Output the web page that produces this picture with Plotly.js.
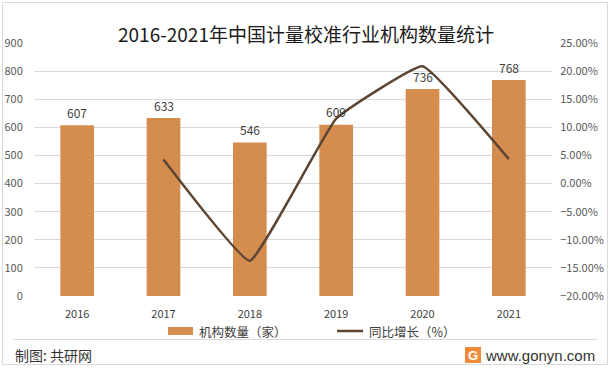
<!DOCTYPE html>
<html>
<head>
<meta charset="utf-8">
<script src="https://cdn.plot.ly/plotly-3.0.1.min.js"></script>
<style>html,body{margin:0;padding:0;background:#fff;}#chart{width:612px;height:370px;}</style>
</head>
<body>
<div id="chart"></div>
<script>
// ---- data ----
const years = ['2016', '2017', '2018', '2019', '2020', '2021'];
const institutions = [607, 633, 546, 609, 736, 768];
const growthYears = ['2017', '2018', '2019', '2020', '2021'];
const growthRate = [0.0428, -0.1374, 0.1154, 0.2085, 0.0435];
const barName = '机构数量（家）';
const lineName = '同比增长（%）';
const titleText = '2016-2021年中国计量校准行业机构数量统计';
const sourceText = '制图: 共研网';
const siteText = 'www.gonyn.com';

// ---- layout helpers ----
const W = 612, H = 370;
const M = {l: 34, r: 60, t: 43, b: 74};
const PW = W - M.l - M.r, PH = H - M.t - M.b;
const px = x => (x - M.l) / PW;
const py = y => (H - M.b - y) / PH;

const FONT = '"Noto Sans CJK SC", "Noto Sans", sans-serif';
const barColor = '#D48C4F';
const lineColor = '#5C4532';

const traces = [
  {
    type: 'bar', x: years, y: institutions, name: barName,
    marker: {color: barColor}, showlegend: false, hoverinfo: 'skip'
  },
  {
    type: 'scatter', mode: 'lines', x: growthYears, y: growthRate, name: lineName,
    yaxis: 'y2', line: {color: lineColor, width: 2.5, shape: 'spline', smoothing: 0.3},
    showlegend: false, hoverinfo: 'skip'
  }
];

const annotations = years.map((yr, i) => ({
  x: i, y: institutions[i], xref: 'x', yref: 'y', text: String(institutions[i]),
  showarrow: false, yshift: 13, yanchor: 'middle',
  font: {family: FONT, size: 12, color: '#404040'}
}));

function paperText(x, y, text, anchor, font) {
  return {xref: 'paper', yref: 'paper', x: px(x), y: py(y), text: text, showarrow: false,
          xanchor: anchor, yanchor: 'middle', font: font};
}
annotations.push(paperText(306, 33, titleText, 'center', {family: FONT, size: 19, color: '#1a1a1a'}));
annotations.push(paperText(197, 331, barName, 'left', {family: FONT, size: 12.5, color: '#404040'}));
annotations.push(paperText(367, 331, lineName, 'left', {family: FONT, size: 12.5, color: '#404040'}));
annotations.push(paperText(13, 355, sourceText, 'left', {family: FONT, size: 14, color: '#333333'}));
annotations.push(paperText(597, 355, siteText, 'right', {family: '"Liberation Sans", Arial, sans-serif', size: 15, color: '#333333'}));
annotations.push(paperText(473, 355, '<b>G</b>', 'center', {family: '"Liberation Sans", Arial, sans-serif', size: 13, color: '#ffffff'}));

function paperRect(x0, x1, y0, y1, fill, line) {
  return {type: 'rect', xref: 'paper', yref: 'paper', x0: px(x0), x1: px(x1), y0: py(y0), y1: py(y1),
          line: line || {width: 0}, fillcolor: fill};
}
const shapes = [
  paperRect(2.5, 607.5, 2.5, 364.5, 'rgba(0,0,0,0)', {color: '#d9d9d9', width: 1}),
  {type: 'line', xref: 'paper', yref: 'paper', x0: px(13), x1: px(597), y0: py(339.5), y1: py(339.5),
   line: {color: '#d9d9d9', width: 1}},
  paperRect(168, 193, 327, 335, barColor),
  {type: 'line', xref: 'paper', yref: 'paper', x0: px(337), x1: px(363), y0: py(331), y1: py(331),
   line: {color: lineColor, width: 2.5}},
  paperRect(465, 481, 347, 363, '#F28A3A')
];

const layout = {
  width: W, height: H,
  margin: M,
  paper_bgcolor: '#ffffff', plot_bgcolor: '#ffffff',
  showlegend: false,
  bargap: 0.61,
  font: {family: FONT, size: 11, color: '#595959'},
  xaxis: {
    type: 'category', categoryorder: 'array', categoryarray: years,
    range: [-0.5, years.length - 0.5], autorange: false,
    showgrid: false, showline: false, zeroline: false,
    ticks: 'outside', ticklen: 8, tickcolor: 'rgba(0,0,0,0)',
    tickfont: {family: FONT, size: 11, color: '#404040'}
  },
  yaxis: {
    range: [0, 900], autorange: false, dtick: 100, tick0: 0, showgrid: true, gridcolor: '#d9d9d9', gridwidth: 1,
    zeroline: false, showline: false, ticks: 'outside', ticklen: 8, tickcolor: 'rgba(0,0,0,0)',
    tickfont: {family: FONT, size: 11, color: '#595959'}
  },
  yaxis2: {
    overlaying: 'y', side: 'right', range: [-0.2, 0.25], autorange: false, dtick: 0.05, tick0: 0,
    tickformat: '.2%', showgrid: false, zeroline: false, showline: false,
    ticks: 'outside', ticklen: 5, tickcolor: 'rgba(0,0,0,0)',
    tickfont: {family: FONT, size: 11, color: '#595959'}
  },
  annotations: annotations,
  shapes: shapes
};

Plotly.newPlot('chart', traces, layout, {staticPlot: true, displayModeBar: false});
</script>
</body>
</html>
